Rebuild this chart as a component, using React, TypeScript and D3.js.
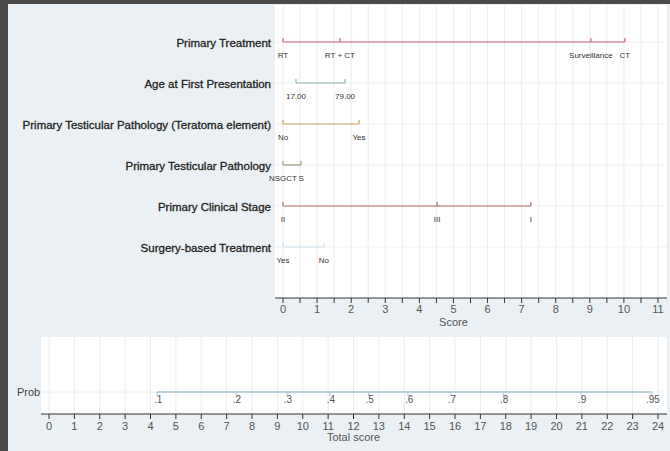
import { useEffect } from "react";
import * as d3 from "d3";

// nomogram rows: variable names, level labels and their point scores
const rowNames = [
  "Primary Treatment",
  "Age at First Presentation",
  "Primary Testicular Pathology (Teratoma element)",
  "Primary Testicular Pathology",
  "Primary Clinical Stage",
  "Surgery-based Treatment",
];
const treatmentLabels = ["RT", "RT + CT", "Surveillance", "CT"];
const treatmentScores = [0, 1.67, 9.03, 10.03];
const ageLabels = ["17.00", "79.00"];
const ageScores = [0.38, 1.82];
const teratomaLabels = ["No", "Yes"];
const teratomaScores = [0, 2.23];
const pathologyLabels = ["NSGCT", "S"];
const pathologyScores = [0, 0.53];
const stageLabels = ["II", "III", "I"];
const stageScores = [0, 4.52, 7.27];
const surgeryLabels = ["Yes", "No"];
const surgeryScores = [0, 1.2];
const rowColors = ["#c9607c", "#8fb6b2", "#cba45c", "#9c9a74", "#a86c6c", "#cfe2ea"];

const scoreTicks = d3.range(0, 12);
const totalTicks = d3.range(0, 25);
const probLabels = [".1", ".2", ".3", ".4", ".5", ".6", ".7", ".8", ".9", ".95"];
const probPoints = [4.26, 7.37, 9.38, 11.07, 12.6, 14.15, 15.84, 17.9, 20.97, 23.76];

const rows = [
  { labels: treatmentLabels, scores: treatmentScores },
  { labels: ageLabels, scores: ageScores },
  { labels: teratomaLabels, scores: teratomaScores },
  { labels: pathologyLabels, scores: pathologyScores },
  { labels: stageLabels, scores: stageScores },
  { labels: surgeryLabels, scores: surgeryScores },
];

const W = 670;
const H = 451;
const font = "'Liberation Sans', Arial, sans-serif";

const App = () => {
  useEffect(() => {
    document.body.style.margin = "0";
    document.body.style.overflow = "hidden";
  }, []);

  const x = d3.scaleLinear().domain([0, 11]).range([283, 658]);
  const xt = d3.scaleLinear().domain([0, 24]).range([49, 658]);
  const y = d3.scalePoint<number>().domain(d3.range(rows.length)).range([42, 247]);

  const top = { left: 275, right: 667, top: 5, bottom: 298 };
  const bot = { left: 41, right: 667, top: 337, bottom: 414 };
  const probY = 392;

  return (
    <div style={{ position: "fixed", left: 0, top: 0, width: W, height: H, overflow: "hidden" }}>
      <svg width={W} height={H} style={{ display: "block", fontFamily: font }}>
        <rect width={W} height={H} fill="#eaf0f3" />
        <rect x={top.left} y={top.top} width={top.right - top.left} height={top.bottom - top.top} fill="#fff" />
        <rect x={bot.left} y={bot.top} width={bot.right - bot.left} height={bot.bottom - bot.top} fill="#fff" />

        {/* grid, top panel */}
        {d3.range(0, 11.5, 0.5).map((v) => (
          <line key={"gv" + v} x1={x(v)} x2={x(v)} y1={top.top} y2={top.bottom} stroke="#ececec" />
        ))}
        {rows.map((_, i) => (
          <line key={"gh" + i} x1={top.left} x2={top.right} y1={y(i)} y2={y(i)} stroke="#f0f0f0" />
        ))}

        {/* grid, bottom panel */}
        {totalTicks.map((v) => (
          <line key={"bv" + v} x1={xt(v)} x2={xt(v)} y1={bot.top} y2={bot.bottom} stroke="#ececec" />
        ))}
        <line x1={bot.left} x2={bot.right} y1={probY} y2={probY} stroke="#f0f0f0" />

        {/* rows */}
        {rows.map((r, i) => {
          const yy = y(i) as number;
          const c = rowColors[i];
          return (
            <g key={"row" + i}>
              <text x={271} y={yy + 4.5} textAnchor="end" fontSize={11.5} fill="#222" stroke="#222" strokeWidth={0.3}>
                {rowNames[i]}
              </text>
              <line x1={x(d3.min(r.scores)!)} x2={x(d3.max(r.scores)!)} y1={yy} y2={yy} stroke={c} strokeWidth={1.2} />
              {r.scores.map((s, j) => (
                <g key={j}>
                  <line x1={x(s)} x2={x(s)} y1={yy - 4} y2={yy} stroke={c} strokeWidth={1.2} />
                  <text x={x(s)} y={yy + 16} textAnchor="middle" fontSize={8} fill="#333">
                    {r.labels[j]}
                  </text>
                </g>
              ))}
            </g>
          );
        })}

        {/* score axis */}
        <line x1={top.left} x2={top.right} y1={top.bottom} y2={top.bottom} stroke="#333" />
        {d3.range(0, 11.5, 0.5).map((v) => (
          <line key={"st" + v} x1={x(v)} x2={x(v)} y1={top.bottom} y2={top.bottom + 5} stroke="#333" />
        ))}
        {scoreTicks.map((v) => (
          <text key={"sl" + v} x={x(v)} y={313} textAnchor="middle" fontSize={11} fill="#555">
            {v}
          </text>
        ))}
        <text x={x(5)} y={326} textAnchor="middle" fontSize={11} fill="#555">
          Score
        </text>

        {/* probability row */}
        <text x={17} y={probY + 4} fontSize={11} fill="#444">
          Prob
        </text>
        <line x1={xt(probPoints[0])} x2={xt(probPoints[probPoints.length - 1])} y1={probY} y2={probY} stroke="#a9c4d0" strokeWidth={1.5} />
        {probPoints.map((p, i) => (
          <g key={"p" + i}>
            <line x1={xt(p)} x2={xt(p)} y1={probY} y2={probY + 4} stroke="#a9c4d0" strokeWidth={1} />
            <text x={xt(p) + 1} y={probY + 11} textAnchor="middle" fontSize={10} fill="#555">
              {probLabels[i]}
            </text>
          </g>
        ))}

        {/* total score axis */}
        <line x1={bot.left} x2={bot.right} y1={bot.bottom} y2={bot.bottom} stroke="#333" />
        {totalTicks.map((v) => (
          <g key={"tt" + v}>
            <line x1={xt(v)} x2={xt(v)} y1={bot.bottom} y2={bot.bottom + 5} stroke="#333" />
            <text x={xt(v)} y={430} textAnchor="middle" fontSize={11} fill="#555">
              {v}
            </text>
          </g>
        ))}
        <text x={xt(12)} y={441} textAnchor="middle" fontSize={11} fill="#555">
          Total score
        </text>

        {/* frame */}
        <rect x={0} y={0} width={W} height={4} fill="#4a4a4a" />
        <rect x={0} y={0} width={8} height={H} fill="#4a4a4a" />
      </svg>
    </div>
  );
};

export default App;
